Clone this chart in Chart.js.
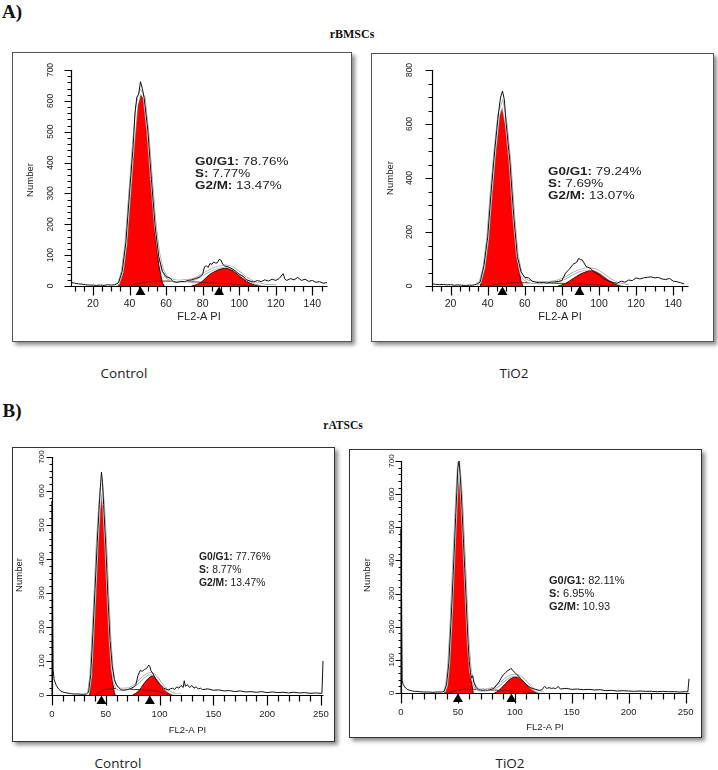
<!DOCTYPE html>
<html>
<head>
<meta charset="utf-8">
<script src="https://cdn.jsdelivr.net/npm/chart.js@4.4.1/dist/chart.umd.min.js"></script>
<style>
body{margin:0;background:#fff;width:718px;height:770px;position:relative;overflow:hidden;font-family:"Liberation Sans",Arial,sans-serif;color:#111}
.lbl{position:absolute;white-space:nowrap;transform:translate(-50%,-50%)}
.head{font-family:"Liberation Serif","Times New Roman",serif;font-weight:bold}
.cond{font-family:"Open Sans",sans-serif;font-size:13.5px;color:#222}
.box{position:absolute;box-sizing:border-box;border:1px solid #555;box-shadow:3px 3px 4px rgba(0,0,0,.45);background:#fff}
.box canvas{position:absolute;left:-1px;top:-1px}
.stat{position:absolute;white-space:nowrap;color:#222}
.wide{font-size:10.5px;line-height:12px;transform:scaleX(1.28);transform-origin:0 0}
</style>
</head>
<body>

<div class="lbl head" style="left:12px;top:11.5px;font-size:19px">A)</div>
<div class="lbl head" style="left:352px;top:34px;font-size:12px">rBMSCs</div>
<div class="lbl cond" style="left:124px;top:373px">Control</div>
<div class="lbl cond" style="left:514px;top:373px">TiO2</div>
<div class="lbl head" style="left:12px;top:410.5px;font-size:19px">B)</div>
<div class="lbl head" style="left:343px;top:425px;font-size:11.5px">rATSCs</div>
<div class="lbl cond" style="left:118px;top:763px">Control</div>
<div class="lbl cond" style="left:510px;top:763px">TiO2</div>

<div class="box" style="left:12px;top:52px;width:340px;height:290px"><canvas id="c1" width="340" height="290"></canvas></div>
<div class="box" style="left:371px;top:53px;width:343px;height:289px"><canvas id="c2" width="343" height="289"></canvas></div>
<div class="box" style="left:12px;top:447px;width:323px;height:295px;border-color:#333"><canvas id="c3" width="323" height="295"></canvas></div>
<div class="box" style="left:349px;top:449px;width:353px;height:289px;border-color:#333"><canvas id="c4" width="353" height="289"></canvas></div>

<div class="stat wide" style="left:195px;top:155px"><b>G0/G1:</b> 78.76%<br><b>S:</b> 7.77%<br><b>G2/M:</b> 13.47%</div>
<div class="stat wide" style="left:548px;top:164.7px"><b>G0/G1:</b> 79.24%<br><b>S:</b> 7.69%<br><b>G2/M:</b> 13.07%</div>
<div class="stat" style="left:199px;top:550.2px;font-size:10.3px;line-height:13px"><b>G0/G1:</b> 77.76%<br><b>S:</b> 8.77%<br><b>G2/M:</b> 13.47%</div>
<div class="stat" style="left:549px;top:574.3px;font-size:11px;line-height:12.7px"><b>G0/G1:</b> 82.11%<br><b>S:</b> 6.95%<br><b>G2/M:</b> 10.93</div>

<script>
// rBMSCs control
const p1Raw = [[8,12],[10,9],[12,7],[14,6],[16,4],[18,3],[20,3],[22,2],[24,3],[26,2],[28,4],[30,3],[32,4],[34,10],[36,48],[38,140],[40,300],[42,455],[43,560],[44,612],[45,622],[46,662],[47,640],[48,610],[50,505],[52,345],[54,195],[56,95],[58,48],[60,30],[62,26],[64,14],[66,12],[68,15],[70,14],[72,18],[74,20],[76,24],[78,28],[80,38],[81,62],[82,66],[83,60],[84,73],[85,70],[86,78],[87,74],[88,75],[89,86],[90,84],[91,70],[92,65],[94,62],[96,56],[98,48],[100,38],[102,32],[104,20],[106,16],[108,13],[110,18],[112,14],[114,20],[116,16],[118,22],[120,18],[122,25],[124,40],[125,22],[126,18],[128,24],[130,20],[132,28],[134,18],[136,22],[138,15],[140,18],[142,12],[144,14],[146,9],[148,11]];
const p1Fit = [[32,2],[34,8],[36,45],[38,135],[40,290],[42,450],[44,585],[46,630],[48,610],[50,500],[52,345],[54,200],[56,105],[58,52],[60,30],[62,22],[64,18],[66,16],[68,16],[70,17],[72,18],[74,20],[76,24],[78,30],[80,37],[82,44],[84,50],[86,56],[88,60],[90,63],[92,65],[94,64],[96,60],[98,53],[100,44],[102,34],[104,25],[106,18],[108,12],[110,8],[112,5],[114,3],[116,2],[120,1]];
const p1G1 = [[34,0],[36,38],[38,128],[40,278],[42,438],[44,572],[46,622],[48,600],[50,488],[52,322],[54,168],[56,68],[58,10],[59,0]];
const p1G2 = [[74,0],[76,3],[78,8],[80,16],[82,28],[84,38],[86,45],[88,51],[90,55],[92,57],[94,56],[96,51],[98,43],[100,33],[102,24],[104,15],[106,9],[108,4],[110,1],[112,0]];
const p1S = [[40,0],[44,6],[48,12],[52,15],[56,16],[60,16],[64,16],[68,15],[72,14],[76,13],[80,12],[84,10],[88,9],[92,8],[96,6],[100,4],[104,2],[108,0]];
const p1Marks = [46, 89];

// rBMSCs TiO2
const p2Raw = [[10,8],[12,6],[14,5],[16,6],[18,4],[20,5],[22,3],[24,4],[26,3],[28,2],[30,3],[32,3],[34,6],[36,15],[38,75],[40,180],[42,360],[44,515],[46,650],[47,700],[48,722],[49,690],[50,600],[52,460],[54,265],[56,110],[58,52],[60,32],[62,30],[64,18],[66,14],[68,12],[70,13],[72,11],[74,14],[76,15],[78,17],[80,20],[82,48],[84,62],[86,80],[88,88],[89,102],[90,98],[91,96],[92,85],[93,72],[94,70],[96,62],[98,48],[100,42],[102,30],[104,22],[106,16],[108,12],[110,10],[112,18],[114,14],[116,22],[118,20],[120,30],[122,26],[124,30],[126,32],[128,34],[130,30],[132,32],[134,26],[136,24],[138,28],[140,18],[142,16],[144,12],[146,8]];
const p2Fit = [[34,5],[36,14],[38,68],[40,175],[42,352],[44,505],[46,635],[48,675],[50,598],[52,460],[54,262],[56,112],[58,45],[60,24],[62,17],[64,14],[66,13],[68,12],[70,12],[72,13],[74,14],[76,16],[78,19],[80,24],[82,30],[84,38],[86,46],[88,53],[90,58],[92,62],[94,64],[96,63],[98,60],[100,53],[102,44],[104,34],[106,24],[108,16],[110,10],[112,6],[114,3],[116,1]];
const p2G1 = [[36,0],[38,60],[40,168],[42,345],[44,498],[46,628],[48,670],[50,590],[52,452],[54,255],[56,95],[58,18],[59,0]];
const p2G2 = [[78,0],[80,4],[82,10],[84,18],[86,27],[88,36],[90,44],[92,50],[94,55],[96,57],[98,55],[100,49],[102,40],[104,29],[106,18],[108,9],[110,3],[112,0]];
const p2S = [[40,0],[44,5],[48,9],[52,11],[56,12],[60,12],[64,12],[68,11],[72,11],[76,10],[80,10],[84,9],[88,8],[92,7],[96,5],[100,4],[104,2],[108,0]];
const p2Marks = [48, 89.5];

// rATSCs control
const p3Raw = [[0,0],[0,570],[1,75],[2,45],[4,28],[6,18],[8,12],[10,9],[12,7],[14,6],[16,5],[18,4],[20,3],[24,3],[28,2],[32,3],[34,8],[36,60],[38,180],[40,310],[42,445],[44,560],[45,610],[46,656],[47,625],[48,560],[50,440],[52,290],[54,160],[56,85],[58,45],[60,30],[62,22],[64,16],[66,14],[68,15],[70,16],[72,18],[74,20],[76,24],[78,30],[80,58],[82,72],[84,70],[86,75],[88,78],[90,88],[91,84],[92,72],[94,62],[96,50],[98,40],[100,32],[102,26],[104,20],[106,17],[108,15],[110,18],[112,20],[114,16],[116,24],[118,20],[120,28],[122,22],[123,42],[124,26],[126,30],[128,22],[130,28],[132,20],[134,24],[136,18],[138,20],[140,16],[145,18],[150,14],[155,15],[160,12],[165,13],[170,10],[175,12],[180,9],[185,10],[190,8],[195,10],[200,7],[205,9],[210,7],[215,8],[220,6],[225,8],[230,6],[235,7],[240,5],[245,6],[250,5],[251,5],[252,100]];
const p3Fit = [[34,6],[36,55],[38,175],[40,300],[42,440],[44,545],[46,622],[48,555],[50,438],[52,290],[54,160],[56,75],[58,35],[60,22],[62,18],[64,17],[66,17],[68,17],[70,18],[72,19],[74,22],[76,26],[78,31],[80,37],[82,43],[84,49],[86,55],[88,59],[90,62],[92,63],[94,61],[96,56],[98,49],[100,40],[102,31],[104,23],[106,16],[108,11],[110,7],[112,4],[115,2],[120,1]];
const p3G1 = [[35,0],[37,70],[38.5,185],[40,300],[42,440],[44,540],[46,619],[48,552],[50,430],[52,280],[54,145],[56,45],[58,6],[59,0]];
const p3G2 = [[75,0],[78,5],[80,10],[83,22],[86,36],[89,47],[92,55],[94,56],[96,52],[98,45],[100,36],[102,28],[104,20],[106,13],[108,8],[110,4],[112,0]];
const p3S = [[40,0],[44,8],[48,14],[52,18],[56,19],[60,19],[64,18],[68,18],[72,17],[76,16],[80,16],[84,15],[88,15],[92,14],[96,12],[100,9],[104,5],[108,2],[110,0]];
const p3Marks = [46, 91];

// rATSCs TiO2
const p4Raw = [[0,0],[0,496],[1,38],[2,25],[4,15],[6,10],[8,8],[10,6],[12,5],[14,5],[16,4],[20,3],[24,3],[28,2],[32,3],[36,3],[38,5],[40,25],[42,90],[44,220],[46,370],[47,450],[48,530],[49,605],[50,680],[51,700],[52,655],[53,600],[54,525],[55,450],[56,375],[57,300],[58,220],[59,150],[60,95],[61,62],[62,45],[63,52],[64,32],[66,16],[68,10],[70,9],[72,8],[74,9],[76,8],[78,10],[80,12],[82,15],[84,24],[86,33],[88,45],[90,55],[92,62],[94,68],[96,72],[97,74],[98,68],[100,62],[102,55],[104,48],[106,40],[108,33],[110,26],[112,20],[114,16],[116,13],[118,11],[120,9],[122,8],[124,10],[126,20],[128,14],[130,16],[132,14],[134,15],[136,13],[138,20],[140,12],[145,14],[150,11],[155,12],[160,10],[165,11],[170,9],[175,10],[180,7],[185,8],[190,6],[195,7],[200,6],[205,5],[210,6],[215,5],[220,5],[225,4],[230,5],[235,4],[240,4],[245,3],[250,4],[252,4],[253,43]];
const p4Fit = [[38,3],[40,22],[42,88],[44,215],[46,372],[47,448],[49,598],[50.6,697],[53,600],[55,452],[57,302],[59,152],[61,64],[63,38],[65,20],[68,10],[70,9],[72,9],[74,9],[76,10],[78,11],[80,13],[82,15],[84,19],[86,24],[88,30],[90,36],[92,42],[94,47],[96,51],[98,53],[100,54],[102,53],[104,50],[106,45],[108,39],[110,32],[112,25],[114,18],[116,12],[118,8],[120,5],[122,3],[125,1]];
const p4G1 = [[38.5,0],[41,52],[43,144],[45,295],[47,446],[49,597],[50.6,697],[53,597],[55,446],[57,295],[59,144],[61,53],[63.5,0]];
const p4G2 = [[82,0],[84,3],[86,8],[88,14],[90,22],[92,29],[94,36],[96,42],[98,46],[100,48],[102,48],[104,46],[106,42],[108,36],[110,30],[112,23],[114,16],[116,10],[118,5],[120,2],[122,0]];
const p4S = [[42,0],[46,5],[50,9],[54,11],[58,12],[62,12],[66,11],[70,10],[74,10],[78,9],[82,9],[86,8],[90,8],[94,7],[98,6],[102,5],[106,4],[110,3],[114,2],[118,1],[122,0]];
const p4Marks = [50, 97];

// axes, ticks, markers drawn like the ModFit plot
const cytoAxes = {
  id: 'cytoAxes',
  afterDatasetsDraw(chart, args, o) {
    const ctx = chart.ctx, xs = chart.scales.x, ys = chart.scales.y, a = chart.chartArea;
    const x0 = Math.round(a.left) + 0.5, y0 = Math.round(a.bottom) + 0.5;
    ctx.save();
    ctx.strokeStyle = '#000';
    ctx.fillStyle = '#000';
    ctx.lineWidth = 1.2;
    ctx.beginPath();
    ctx.moveTo(x0, Math.round(ys.getPixelForValue(ys.max)));
    ctx.lineTo(x0, y0);
    ctx.lineTo(Math.round(a.right) + 0.5, y0);
    for (let v = Math.ceil(xs.min / o.xMinor) * o.xMinor; v <= xs.max; v += o.xMinor) {
      const px = Math.round(xs.getPixelForValue(v)) + 0.5;
      ctx.moveTo(px, y0);
      ctx.lineTo(px, y0 + (v % o.xMajor === 0 ? o.xMaj : o.xMin));
    }
    for (let v = 0; v <= ys.max; v += o.yMinor) {
      const py = Math.round(ys.getPixelForValue(v)) + 0.5;
      ctx.moveTo(x0, py);
      ctx.lineTo(x0 - (v % o.yMajor === 0 ? o.yMaj : o.yMin), py);
    }
    ctx.stroke();

    // markers under the peaks
    o.marks.forEach(m => {
      const px = xs.getPixelForValue(m);
      ctx.beginPath();
      ctx.moveTo(px, y0);
      ctx.lineTo(px - 5, y0 + 8.5);
      ctx.lineTo(px + 5, y0 + 8.5);
      ctx.closePath();
      ctx.fill();
    });

    ctx.fillStyle = '#222';
    ctx.textAlign = 'center';
    ctx.textBaseline = 'middle';
    ctx.font = o.xFont;
    for (let v = Math.ceil(xs.min / o.xMajor) * o.xMajor; v <= xs.max; v += o.xMajor) {
      if (v < o.xFirst) continue;
      ctx.fillText(String(v), xs.getPixelForValue(v), y0 + o.xLab);
    }
    ctx.font = o.tFont;
    ctx.fillText('FL2-A PI', (a.left + a.right) / 2, y0 + o.xTitle);

    ctx.font = o.yFont;
    for (let v = 0; v <= ys.max; v += o.yMajor) {
      ctx.save();
      ctx.translate(x0 - o.yLab, ys.getPixelForValue(v));
      ctx.rotate(-Math.PI / 2);
      ctx.fillText(String(v), 0, 0);
      ctx.restore();
    }
    ctx.font = o.nFont;
    ctx.save();
    ctx.translate(x0 - o.yTitle, o.yTitleY);
    ctx.rotate(-Math.PI / 2);
    ctx.fillText('Number', 0, 0);
    ctx.restore();
    ctx.restore();
  }
};

function pts(arr) {
  return arr.map(p => ({x: p[0], y: p[1]}));
}

function drawPanel(id, raw, fit, g1, g2, s, o) {
  new Chart(document.getElementById(id), {
    type: 'line',
    data: {
      datasets: [
        {data: pts(raw), borderColor: '#111', borderWidth: 1, order: 0, clip: 6},
        {data: pts(fit), borderColor: '#ffffff', borderWidth: 1.4, order: 1},
        {data: pts(fit), borderColor: '#a0a0a0', borderWidth: 2.8, order: 2},
        {data: pts(s), borderColor: '#7a1616', borderWidth: 1, order: 3},
        {data: pts(g2), borderColor: '#200', borderWidth: 0.9, backgroundColor: '#ff0000', fill: 'origin', order: 4},
        {data: pts(g1), borderColor: '#200', borderWidth: 0.9, backgroundColor: '#ff0000', fill: 'origin', order: 5}
      ]
    },
    options: {
      responsive: false,
      animation: false,
      events: [],
      layout: {padding: o.pad},
      elements: {point: {radius: 0}, line: {tension: 0}},
      plugins: {legend: {display: false}, tooltip: {enabled: false}, cytoAxes: o.axes},
      scales: {
        x: {type: 'linear', min: o.xMin, max: o.xMax, grid: {display: false}, border: {display: false},
            ticks: {display: false}, afterFit(sc) { sc.height = 0; }},
        y: {type: 'linear', min: 0, max: o.yMax, grid: {display: false}, border: {display: false},
            ticks: {display: false}, afterFit(sc) { sc.width = 0; }}
      }
    },
    plugins: [cytoAxes]
  });
}

const fontA = {xFont: '10.5px "Liberation Sans"', tFont: '11px "Liberation Sans"', yFont: '8.5px "Liberation Sans"', nFont: '9.5px "Liberation Sans"'};
const fontB = {xFont: '9.5px "Liberation Sans"', tFont: '9.5px "Liberation Sans"', yFont: '8px "Liberation Sans"', nFont: '9.5px "Liberation Sans"'};

drawPanel('c1', p1Raw, p1Fit, p1G1, p1G2, p1S, {
  pad: {left: 59, top: 18, right: 25, bottom: 56}, xMin: 8, xMax: 148, yMax: 700,
  axes: Object.assign({xMinor: 5, xMajor: 20, xFirst: 20, yMinor: 20, yMajor: 100, xMaj: 9, xMin: 5, yMaj: 7, yMin: 4,
    xLab: 18, xTitle: 30, yLab: 21, yTitle: 41, yTitleY: 128, marks: p1Marks}, fontA)
});
drawPanel('c2', p2Raw, p2Fit, p2G1, p2G2, p2S, {
  pad: {left: 61, top: 17, right: 26, bottom: 56}, xMin: 10, xMax: 148, yMax: 800,
  axes: Object.assign({xMinor: 5, xMajor: 20, xFirst: 20, yMinor: 50, yMajor: 200, xMaj: 9, xMin: 5, yMaj: 7, yMin: 4,
    xLab: 18, xTitle: 30, yLab: 23, yTitle: 42, yTitleY: 125, marks: p2Marks}, fontA)
});
drawPanel('c3', p3Raw, p3Fit, p3G1, p3G2, p3S, {
  pad: {left: 40, top: 10, right: 12, bottom: 47}, xMin: 0, xMax: 252, yMax: 700,
  axes: Object.assign({xMinor: 10, xMajor: 50, xFirst: 0, yMinor: 20, yMajor: 100, xMaj: 10, xMin: 6, yMaj: 6, yMin: 3,
    xLab: 19, xTitle: 35, yLab: 10.5, yTitle: 33, yTitleY: 128, marks: p3Marks}, fontB)
});
drawPanel('c4', p4Raw, p4Fit, p4G1, p4G2, p4S, {
  pad: {left: 52, top: 12, right: 13, bottom: 45}, xMin: 0, xMax: 253, yMax: 700,
  axes: Object.assign({xMinor: 10, xMajor: 50, xFirst: 0, yMinor: 20, yMajor: 100, xMaj: 10, xMin: 6, yMaj: 6, yMin: 3,
    xLab: 19, xTitle: 34, yLab: 9.5, yTitle: 34, yTitleY: 126, marks: p4Marks}, fontB)
});
</script>
</body>
</html>
